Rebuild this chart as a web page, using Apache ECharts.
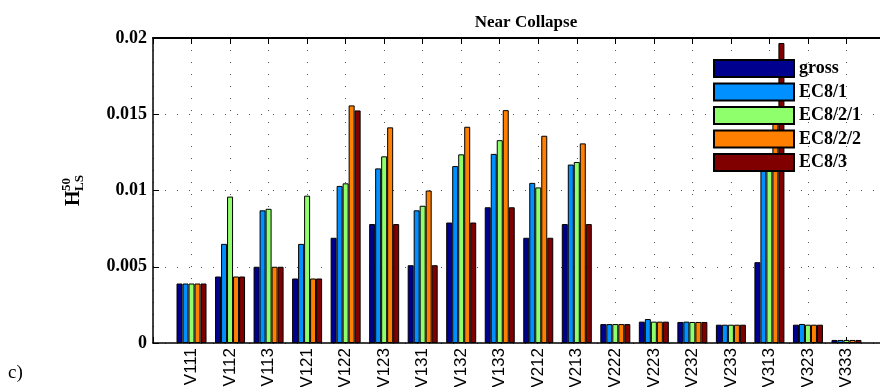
<!DOCTYPE html>
<html>
<head>
<meta charset="utf-8">
<script src="https://cdn.jsdelivr.net/npm/echarts@6/dist/echarts.min.js"></script>
<style>
html,body{margin:0;padding:0;background:#fff;}
#chart{width:880px;height:387px;}
</style>
</head>
<body>
<div id="chart"></div>
<script>
var categories = ['V111','V112','V113','V121','V122','V123','V131','V132','V133','V212','V213','V222','V223','V232','V233','V313','V323','V333'];
var seriesNames = ['gross','EC8/1','EC8/2/1','EC8/2/2','EC8/3'];
var gross  = [0.0039, 0.00436, 0.0050, 0.00423, 0.0069, 0.0078, 0.0051, 0.0079, 0.0089, 0.0069, 0.0078, 0.00124, 0.0014, 0.00138, 0.0012, 0.0053, 0.0012, 0.0002];
var ec81   = [0.0039, 0.0065, 0.0087, 0.0065, 0.0103, 0.01145, 0.0087, 0.0116, 0.0124, 0.0105, 0.0117, 0.00124, 0.00157, 0.0014, 0.0012, 0.0118, 0.00125, 0.0002];
var ec821  = [0.0039, 0.0096, 0.0088, 0.00966, 0.01047, 0.01224, 0.0090, 0.01237, 0.0133, 0.0102, 0.01187, 0.00124, 0.0014, 0.00138, 0.0012, 0.0118, 0.0012, 0.0002];
var ec822  = [0.0039, 0.00436, 0.0050, 0.00423, 0.01558, 0.01414, 0.0100, 0.01418, 0.01527, 0.01359, 0.01309, 0.00124, 0.0014, 0.00138, 0.0012, 0.0151, 0.0012, 0.0002];
var ec83   = [0.0039, 0.00436, 0.0050, 0.00423, 0.01525, 0.0078, 0.0051, 0.0079, 0.0089, 0.0069, 0.0078, 0.00124, 0.0014, 0.00138, 0.0012, 0.01967, 0.0012, 0.0002];
var colors = ['#00008f', '#0090ff', '#90ff6c', '#ff7f00', '#800000'];

var allData = [gross, ec81, ec821, ec822, ec83];
// pad one empty slot on each side (MATLAB-style xlim [0, n+1])
var paddedCats = [''].concat(categories, ['']);
function pad(arr){ return [null].concat(arr, [null]); }

var serif = 'Liberation Serif';
var dotted = {color:'#555', width:1, type:[1,11]};

var chart = echarts.init(document.getElementById('chart'), null, {renderer:'canvas'});
var series = seriesNames.map(function(n, i){
  return {
    name: n, type: 'bar', xAxisIndex: 0, yAxisIndex: 0,
    data: pad(allData[i]),
    barWidth: 6, barGap: '0%',
    itemStyle: {color: colors[i], borderColor: '#000', borderWidth: 1},
    emphasis: {disabled: true}, silent: true
  };
});

chart.setOption({
  animation: false,
  backgroundColor: '#fff',
  title: {
    text: 'Near Collapse', left: 521, top: 9, textAlign: 'center',
    textStyle: {fontFamily: serif, fontSize: 17, fontWeight: 'bold', color: '#000'}
  },
  legend: {
    data: seriesNames, orient: 'vertical', left: 708, top: 54,
    icon: 'rect', itemWidth: 80, itemHeight: 17, itemGap: 4.5,
    selectedMode: false,
    itemStyle: {borderColor: '#000', borderWidth: 2},
    textStyle: {fontFamily: serif, fontSize: 18, fontWeight: 'bold', color: '#000', lineHeight: 17}
  },
  grid: {left: 153, top: 38, bottom: 44, right: -5, containLabel: false, outerBoundsMode: 'none'},
  xAxis: [{
    type: 'category', data: paddedCats, boundaryGap: false, position: 'bottom',
    axisLine: {show: true, onZero: false, lineStyle: {color: '#000', width: 1.5}},
    axisTick: {show: true, inside: true, length: 6, interval: 0, lineStyle: {color: '#000'}},
    axisLabel: {interval: 0, rotate: 90, margin: 5, fontFamily: 'Liberation Sans', fontSize: 17, color: '#000'},
    splitLine: {show: true, interval: 0, lineStyle: dotted}
  }, {
    type: 'category', data: paddedCats, boundaryGap: false, position: 'top',
    axisLine: {show: true, onZero: false, lineStyle: {color: '#000', width: 2}},
    axisTick: {show: true, inside: true, length: 6, interval: 0, lineStyle: {color: '#000'}},
    axisLabel: {show: false}, splitLine: {show: false}
  }],
  yAxis: {
    type: 'value', min: 0, max: 0.02, interval: 0.005,
    axisLine: {show: true, lineStyle: {color: '#000', width: 1.5}},
    axisTick: {show: true, inside: true, length: 6, lineStyle: {color: '#000'}},
    axisLabel: {margin: 6, fontFamily: serif, fontSize: 18, fontWeight: 'bold', color: '#000'},
    splitLine: {show: true, lineStyle: dotted}
  },
  graphic: [
    {
      type: 'group', x: 74, y: 206, rotation: Math.PI / 2, silent: true,
      children: [
        {type: 'text', x: 0, y: 0, style: {text: 'H', font: 'bold 20px "Liberation Serif"', fill: '#000', align: 'left', verticalAlign: 'middle'}},
        {type: 'text', x: 15, y: 6, style: {text: 'LS', font: 'bold 13px "Liberation Serif"', fill: '#000', align: 'left', verticalAlign: 'middle'}},
        {type: 'text', x: 15, y: -7, style: {text: '50', font: 'bold 13px "Liberation Serif"', fill: '#000', align: 'left', verticalAlign: 'middle'}}
      ]
    },
    {type: 'text', left: 8, top: 364, silent: true, style: {text: 'c)', font: '19px "Liberation Serif"', fill: '#000'}}
  ],
  series: series
});
</script>
</body>
</html>
